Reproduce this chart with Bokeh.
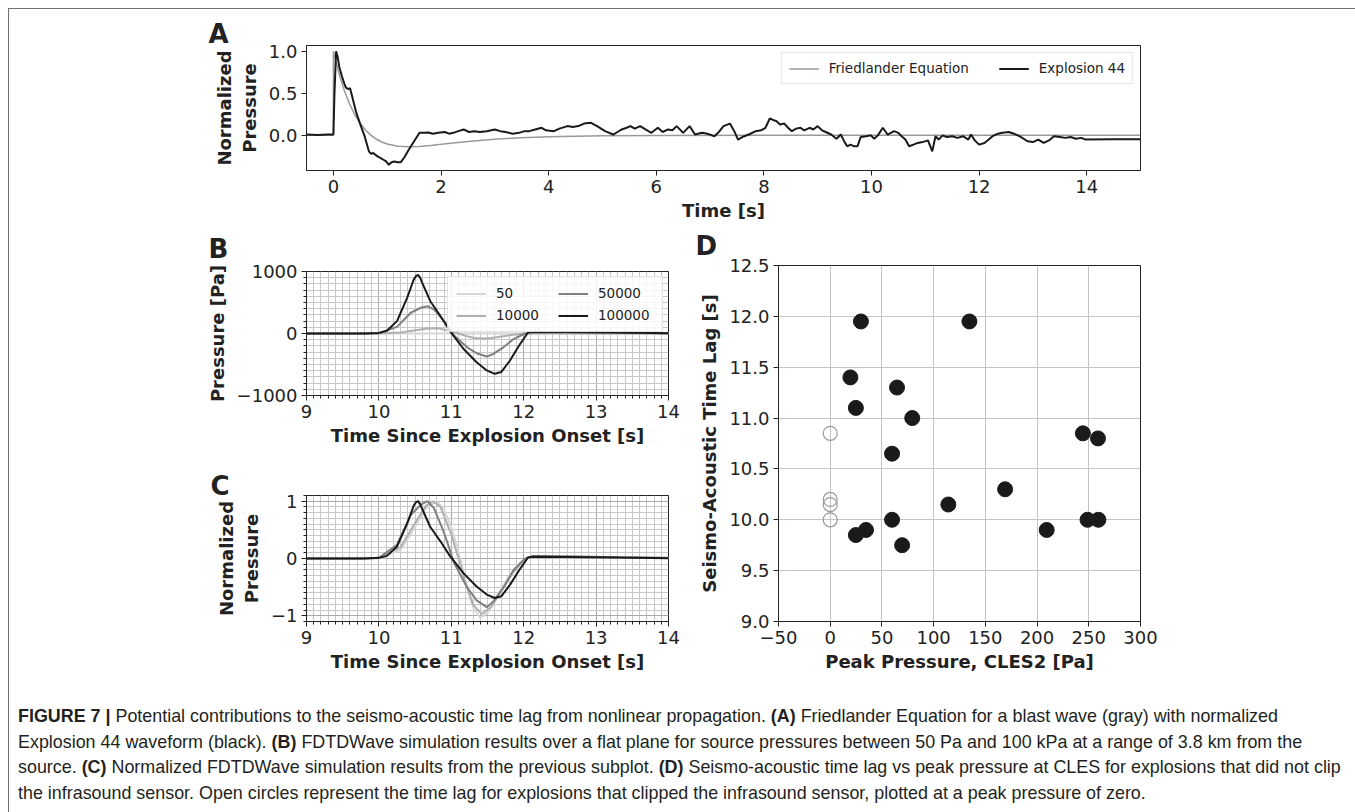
from bokeh.plotting import figure
from bokeh.models import (Range1d, FixedTicker, SingleIntervalTicker, Legend, LegendItem,
                          Div, CustomJSTickFormatter)
from bokeh.layouts import column, row
from bokeh.embed import file_html
from bokeh.resources import INLINE

# ---------------- Panel A data ----------------
fried_t = [-0.5, 0.0, 0.0, 0.1, 0.2, 0.3, 0.4, 0.5, 0.6, 0.7, 0.8, 0.9, 1.0, 1.2, 1.4, 1.6,
           1.8, 2.0, 2.5, 3.0, 3.5, 4.0, 5.0, 6.0, 8.0, 15.0]
fried_p = [0.0, 0.0, 1.0, 0.743, 0.537, 0.372, 0.242, 0.14, 0.061, 0.0, -0.046, -0.079, -0.103,
           -0.129, -0.135, -0.131, -0.12, -0.107, -0.072, -0.045, -0.027, -0.016, -0.005, -0.001,
           0.0, 0.0]

exp_t = [-0.5, -0.3, -0.1, 0.0, 0.02, 0.05, 0.08, 0.11, 0.16, 0.2, 0.23, 0.27, 0.31, 0.35, 0.42,
         0.5, 0.58, 0.66, 0.7, 0.74, 0.82, 0.88, 0.93, 0.98, 1.03, 1.08, 1.13, 1.2, 1.25, 1.32,
         1.4, 1.5, 1.6, 1.68, 1.76, 1.85, 1.95, 2.07, 2.15, 2.23, 2.32, 2.42, 2.52, 2.62, 2.72,
         2.85, 3.0, 3.1, 3.2, 3.33, 3.45, 3.55, 3.64, 3.75, 3.87, 3.95, 4.1, 4.2, 4.35, 4.45,
         4.55, 4.66, 4.78, 4.9, 5.05, 5.2, 5.28, 5.36, 5.45, 5.52, 5.6, 5.7, 5.8, 5.91, 6.03,
         6.12, 6.22, 6.3, 6.38, 6.5, 6.62, 6.72, 6.85, 6.95, 7.08, 7.15, 7.25, 7.37, 7.45, 7.52,
         7.6, 7.72, 7.85, 7.95, 8.03, 8.11, 8.18, 8.23, 8.3, 8.38, 8.45, 8.52, 8.6, 8.68, 8.75,
         8.85, 8.92, 9.0, 9.08, 9.15, 9.25, 9.35, 9.43, 9.5, 9.55, 9.61, 9.68, 9.74, 9.8, 9.9,
         9.99, 10.05, 10.12, 10.21, 10.3, 10.36, 10.42, 10.5, 10.56, 10.63, 10.7, 10.78, 10.86,
         10.95, 11.05, 11.13, 11.19, 11.25, 11.32, 11.4, 11.5, 11.6, 11.7, 11.8, 11.85, 11.92,
         12.0, 12.1, 12.18, 12.25, 12.35, 12.43, 12.55, 12.65, 12.75, 12.9, 13.0, 13.1, 13.2,
         13.3, 13.39, 13.5, 13.6, 13.7, 13.8, 13.9, 13.98, 14.5, 15.0]
exp_p = [0.01, 0.005, 0.01, 0.01, 0.5, 1.0, 0.93, 0.81, 0.7, 0.62, 0.57, 0.55, 0.56, 0.46, 0.28,
         0.13, -0.01, -0.19, -0.22, -0.21, -0.25, -0.27, -0.29, -0.31, -0.35, -0.32, -0.31, -0.32,
         -0.32, -0.26, -0.17, -0.07, 0.03, 0.03, 0.035, 0.02, 0.03, 0.04, 0.02, 0.03, 0.05, 0.07,
         0.04, 0.05, 0.04, 0.05, 0.07, 0.05, 0.04, 0.02, 0.03, 0.05, 0.05, 0.07, 0.09, 0.06, 0.05,
         0.08, 0.11, 0.1, 0.11, 0.14, 0.15, 0.11, 0.05, 0.01, 0.04, 0.07, 0.09, 0.11, 0.08, 0.11,
         0.07, 0.03, 0.09, 0.04, 0.07, 0.06, 0.11, 0.03, 0.11, 0.01, 0.03, 0.02, -0.01, 0.03, 0.11,
         0.14, 0.05, -0.05, -0.02, 0.01, 0.05, 0.06, 0.09, 0.2, 0.18, 0.17, 0.13, 0.14, 0.09, 0.05,
         0.08, 0.09, 0.06, 0.09, 0.07, 0.11, 0.06, 0.04, 0.01, -0.04, 0.01, -0.08, -0.13, -0.11,
         -0.13, -0.13, -0.02, -0.01, 0.0, -0.04, 0.0, 0.09, 0.01, 0.03, 0.05, 0.03, -0.01, -0.05,
         -0.13, -0.11, -0.09, -0.08, -0.06, -0.19, -0.01, -0.05, 0.0, -0.02, -0.01, -0.03, -0.01,
         -0.05, 0.01, -0.06, -0.11, -0.09, -0.05, -0.01, 0.02, 0.03, 0.04, 0.02, -0.01, -0.07,
         -0.08, -0.05, -0.09, -0.06, -0.01, -0.02, -0.03, -0.02, -0.04, -0.03, -0.05, -0.045,
         -0.045]

# ---------------- Panels B and C data ----------------
series_labels = ["50", "10000", "50000", "100000"]
series_colors = ["#d6d6d6", "#b0b0b0", "#7f7f7f", "#1a1a1a"]

t_50 = [9.0, 10.0, 10.3, 10.5, 10.65, 10.8, 10.9, 11.0, 11.1, 11.2, 11.3, 11.4, 11.5, 11.65,
        11.8, 11.95, 12.06, 14.0]
p_50 = [0.0, 0.0, 0.06, 0.22, 0.35, 0.4, 0.34, 0.22, 0.05, -0.16, -0.34, -0.42, -0.38, -0.25,
        -0.12, -0.03, 0.01, 0.0]
n_50 = [0.0, 0.0, 0.15, 0.55, 0.88, 1.0, 0.85, 0.55, 0.12, -0.4, -0.85, -1.04, -0.95, -0.62,
        -0.3, -0.07, 0.02, 0.01]

t_10000 = [9.0, 10.0, 10.3, 10.5, 10.65, 10.75, 10.85, 11.0, 11.1, 11.2, 11.3, 11.42, 11.55,
           11.7, 11.85, 12.0, 12.08, 14.0]
p_10000 = [0.0, 1.0, 17.0, 53.0, 78.0, 85.0, 77.0, 36.0, 0.0, -38.0, -68.0, -82.0, -72.0,
           -47.0, -21.0, -3.0, 2.0, 1.0]
n_10000 = [0.0, 0.01, 0.2, 0.62, 0.92, 1.0, 0.9, 0.42, 0.0, -0.45, -0.8, -0.97, -0.85, -0.55,
           -0.25, -0.03, 0.02, 0.01]

t_50000 = [9.0, 9.8, 10.0, 10.25, 10.44, 10.58, 10.67, 10.76, 10.9, 11.04, 11.22, 11.35, 11.49,
           11.58, 11.72, 11.86, 12.02, 12.13, 12.6, 13.3, 14.0]
p_50000 = [0.0, 1.0, 5.0, 106.0, 335.0, 415.0, 440.0, 388.0, 200.0, -37.0, -223.0, -319.0,
           -372.0, -330.0, -223.0, -90.0, 0.0, 20.0, 18.0, 10.0, 5.0]
n_50000 = [0.0, 0.002, 0.011, 0.24, 0.76, 0.94, 1.0, 0.88, 0.45, -0.08, -0.51, -0.73, -0.85,
           -0.75, -0.51, -0.2, 0.0, 0.045, 0.04, 0.023, 0.011]

t_100000 = [9.0, 9.8, 10.0, 10.11, 10.25, 10.39, 10.48, 10.51, 10.54, 10.57, 10.6, 10.71, 10.85,
            10.98, 11.17, 11.35, 11.49, 11.6, 11.69, 11.81, 11.95, 12.06, 12.13, 12.6, 13.3, 14.0]
p_100000 = [0.0, 2.0, 10.0, 43.0, 200.0, 575.0, 867.0, 925.0, 945.0, 900.0, 814.0, 521.0, 282.0,
            43.0, -250.0, -463.0, -596.0, -650.0, -622.0, -436.0, -170.0, 16.0, 30.0, 25.0,
            15.0, 5.0]
n_100000 = [0.0, 0.002, 0.011, 0.046, 0.21, 0.61, 0.92, 0.98, 1.0, 0.95, 0.86, 0.55, 0.3, 0.046,
            -0.26, -0.49, -0.63, -0.69, -0.66, -0.46, -0.18, 0.017, 0.032, 0.026, 0.016, 0.005]

# ---------------- Panel D data ----------------
peak_pressure = [29.7, 134.6, 19.5, 64.6, 24.8, 79.3, 59.8, 244.3, 258.9, 169.1, 114.2, 59.8,
                 248.8, 259.3, 24.8, 34.6, 69.5, 209.3]
time_lag = [11.95, 11.95, 11.4, 11.3, 11.1, 11.0, 10.65, 10.85, 10.8, 10.3, 10.15, 10.0, 10.0,
            10.0, 9.85, 9.9, 9.75, 9.9]
clipped_pressure = [0, 0, 0, 0]
clipped_lag = [10.85, 10.2, 10.15, 10.0]

# ---------------- styling helpers ----------------
INK = "#222222"
FONT = "DejaVu Sans"


def fmt(decimals):
    return CustomJSTickFormatter(code=(
        "const s = Math.abs(tick).toFixed(%d);" % decimals +
        "return tick < -1e-9 ? '\\u2212' + s : s;"))


def make_fig(w, h, mbl, mbr, mbt, mbb, xr, yr):
    p = figure(width=w, height=h, x_range=Range1d(*xr), y_range=Range1d(*yr),
               output_backend="svg", toolbar_location=None,
               min_border_left=mbl, min_border_right=mbr,
               min_border_top=mbt, min_border_bottom=mbb)
    p.outline_line_color = INK
    p.outline_line_width = 1
    p.outline_line_alpha = 1.0
    p.background_fill_color = "white"
    p.border_fill_color = "white"
    for ax in (p.xaxis[0], p.yaxis[0]):
        ax.axis_line_color = INK
        ax.major_tick_line_color = INK
        ax.major_tick_out = 5
        ax.major_tick_in = 0
        ax.minor_tick_line_color = None
        ax.major_label_text_font = FONT
        ax.major_label_text_font_size = "18px"
        ax.major_label_text_color = INK
        ax.axis_label_text_font = FONT
        ax.axis_label_text_font_style = "bold"
        ax.axis_label_text_font_size = "18px"
        ax.axis_label_text_color = INK
        ax.major_label_standoff = 4
    p.xaxis[0].axis_label_standoff = 4
    p.yaxis[0].axis_label_standoff = 6
    p.title.text_font = FONT
    p.title.text_font_size = "26px"
    p.title.text_font_style = "bold"
    p.title.text_color = INK
    p.title.align = "left"
    return p


def fine_grid(p, xticker, yticker):
    p.xaxis[0].ticker = xticker
    p.yaxis[0].ticker = yticker
    p.xgrid[0].ticker = xticker
    p.ygrid[0].ticker = yticker
    for g in (p.xgrid[0], p.ygrid[0]):
        g.grid_line_color = "#aaaaaa"
        g.grid_line_width = 1
        g.minor_grid_line_color = "#c8c8c8"
        g.minor_grid_line_width = 1
    for ax in (p.xaxis[0], p.yaxis[0]):
        ax.minor_tick_line_color = INK
        ax.minor_tick_out = 3
        ax.minor_tick_in = 0


# ---------------- Panel A ----------------
pA = make_fig(1343, 214, 297, 212, 36, 52, (-0.5, 15.0), (-0.4175, 1.0675))
pA.title.text = "A"
pA.title.offset = -98
pA.title.standoff = -7
pA.xaxis[0].ticker = FixedTicker(ticks=[0, 2, 4, 6, 8, 10, 12, 14])
pA.yaxis[0].ticker = FixedTicker(ticks=[0.0, 0.5, 1.0])
pA.xaxis[0].formatter = fmt(0)
pA.yaxis[0].formatter = fmt(1)
pA.xaxis[0].axis_label = "Time [s]"
pA.yaxis[0].axis_label = "Normalized\nPressure"
pA.xgrid[0].visible = False
pA.ygrid[0].visible = False
rA1 = pA.line(fried_t, fried_p, line_color="#999999", line_width=1.5)
rA2 = pA.line(exp_t, exp_p, line_color="#1a1a1a", line_width=2)
legA = Legend(items=[LegendItem(label="Friedlander Equation", renderers=[rA1]),
                     LegendItem(label="Explosion 44", renderers=[rA2])],
              location="top_right", orientation="horizontal",
              label_text_font=FONT, label_text_font_size="13.5px", label_text_color=INK,
              glyph_width=30, glyph_height=13, label_height=13, label_standoff=10,
              spacing=30, padding=7, margin=7,
              border_line_color="#cccccc", border_line_width=1,
              background_fill_color="white", background_fill_alpha=0.85)
pA.add_layout(legA)

# ---------------- Panel B ----------------
pB = make_fig(671, 229, 297, 12, 47, 57, (9.0, 14.0), (-1000.0, 1000.0))
pB.title.text = "B"
pB.title.offset = -98
pB.title.standoff = 16
fine_grid(pB, SingleIntervalTicker(interval=1, num_minor_ticks=10),
          SingleIntervalTicker(interval=1000, num_minor_ticks=10))
pB.xaxis[0].formatter = fmt(0)
pB.yaxis[0].formatter = fmt(0)
pB.xaxis[0].axis_label = "Time Since Explosion Onset [s]"
pB.yaxis[0].axis_label = "Pressure [Pa]"
b_t = [t_50, t_10000, t_50000, t_100000]
b_p = [p_50, p_10000, p_50000, p_100000]
rB = []
for tt, pp, col in zip(b_t, b_p, series_colors):
    rB.append(pB.line(tt, pp, line_color=col, line_width=2))
legB = Legend(items=[LegendItem(label=lab, renderers=[r]) for lab, r in zip(series_labels, rB)],
              location="top_right", orientation="vertical", ncols=2,
              label_text_font=FONT, label_text_font_size="13.5px", label_text_color=INK,
              glyph_width=30, glyph_height=15, label_height=15, label_width=56,
              label_standoff=10, spacing=6, padding=8, margin=5,
              border_line_color="#cccccc", border_line_width=1,
              background_fill_color="white", background_fill_alpha=0.85)
pB.add_layout(legB)

# ---------------- Panel C ----------------
pC = make_fig(671, 229, 297, 12, 43, 60, (9.0, 14.0), (-1.1, 1.1))
pC.title.text = "C"
pC.title.offset = -96
pC.title.standoff = -11
fine_grid(pC, SingleIntervalTicker(interval=1, num_minor_ticks=10),
          SingleIntervalTicker(interval=1, num_minor_ticks=10))
pC.xaxis[0].formatter = fmt(0)
pC.yaxis[0].formatter = fmt(0)
pC.xaxis[0].axis_label = "Time Since Explosion Onset [s]"
pC.yaxis[0].axis_label = "Normalized\nPressure"
c_t = [t_50, t_10000, t_50000, t_100000]
c_n = [n_50, n_10000, n_50000, n_100000]
for tt, nn, col in zip(c_t, c_n, series_colors):
    pC.line(tt, nn, line_color=col, line_width=2)

# ---------------- Panel D ----------------
pD = make_fig(672, 458, 98, 212, 41, 60, (-50.0, 300.0), (9.0, 12.5))
pD.title.text = "D"
pD.title.offset = -83
pD.title.standoff = 10
pD.xaxis[0].ticker = FixedTicker(ticks=[-50, 0, 50, 100, 150, 200, 250, 300])
pD.yaxis[0].ticker = FixedTicker(ticks=[9.0, 9.5, 10.0, 10.5, 11.0, 11.5, 12.0, 12.5])
pD.xgrid[0].ticker = pD.xaxis[0].ticker
pD.ygrid[0].ticker = pD.yaxis[0].ticker
pD.xaxis[0].formatter = fmt(0)
pD.yaxis[0].formatter = fmt(1)
pD.xaxis[0].axis_label = "Peak Pressure, CLES2 [Pa]"
pD.yaxis[0].axis_label = "Seismo-Acoustic Time Lag [s]"
for g in (pD.xgrid[0], pD.ygrid[0]):
    g.grid_line_color = "#c4c4c4"
    g.grid_line_width = 1
pD.scatter(clipped_pressure, clipped_lag, size=14, fill_color=None, line_color="#9a9a9a",
           line_width=1.2)
pD.scatter(peak_pressure, time_lag, size=15, fill_color="#1a1a1a", line_color="#1a1a1a")

# ---------------- Caption ----------------
caption_html = (
    '<div style="font-family: \'Liberation Sans\', Arial, sans-serif; font-size: 17.9px; '
    'line-height: 25.6px; color: #231f20; padding: 18px 0 0 4px; white-space: nowrap;">'
    '<b>FIGURE 7 |</b> Potential contributions to the seismo-acoustic time lag from nonlinear '
    'propagation. <b>(A)</b> Friedlander Equation for a blast wave (gray) with normalized<br>'
    'Explosion 44 waveform (black). <b>(B)</b> FDTDWave simulation results over a flat plane for '
    'source pressures between 50 Pa and 100 kPa at a range of 3.8 km from the<br>'
    'source. <b>(C)</b> Normalized FDTDWave simulation results from the previous subplot. '
    '<b>(D)</b> Seismo-acoustic time lag vs peak pressure at CLES for explosions that did not clip<br>'
    'the infrasound sensor. Open circles represent the time lag for explosions that clipped the '
    'infrasound sensor, plotted at a peak pressure of zero.</div>')
cap = Div(text=caption_html, width=1343, height=128)

layout = column(pA, row(column(pB, pC, spacing=0), pD, spacing=0), cap, spacing=0,
                margin=(8, 0, 0, 8),
                styles={"border": "1px solid #707070", "background-color": "white"})

open("out.html", "w").write(file_html(layout, INLINE))
